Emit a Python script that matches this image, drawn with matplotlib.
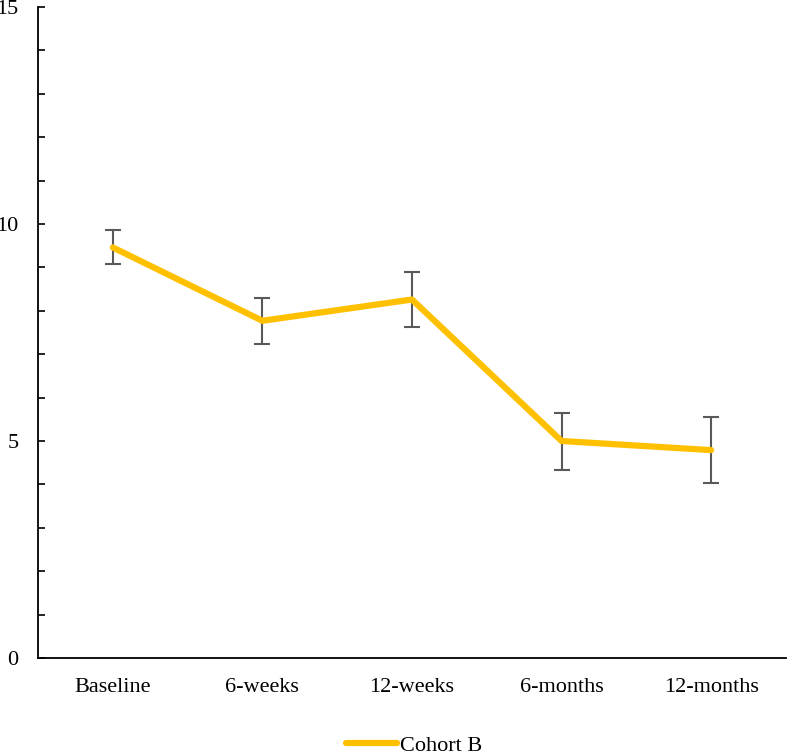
import matplotlib
matplotlib.use('Agg')
import matplotlib.pyplot as plt
from matplotlib.ticker import MultipleLocator

# data
etapas = ['Baseline', '6-weeks', '12-weeks', '6-months', '12-months']
media = [9.46, 7.77, 8.26, 5.00, 4.79]
erro_sup = [9.86, 8.29, 8.89, 5.64, 5.55]
erro_inf = [9.07, 7.23, 7.63, 4.33, 4.04]

plt.rcParams['font.family'] = ['Liberation Serif', 'DejaVu Serif']

fig = plt.figure(figsize=(7.87, 7.52), dpi=100)
ax = fig.add_axes([0.0483, 0.125, 0.9504, 0.8657])

x = list(range(len(etapas)))
yerr = [[m - b for m, b in zip(media, erro_inf)],
        [t - m for m, t in zip(media, erro_sup)]]

ax.errorbar(x, media, yerr=yerr, fmt='none', ecolor='#595959',
            elinewidth=1.5, capsize=5.5, capthick=1.5, zorder=2)
ax.plot(x, media, color='#FFC000', linewidth=4.5, label='Cohort B',
        solid_capstyle='round', zorder=3)

ax.set_xlim(-0.5, len(etapas) - 0.5)
ax.set_ylim(0, 15)
ax.set_xticks(x)
ax.set_xticklabels(etapas)
ax.yaxis.set_major_locator(MultipleLocator(5))
ax.yaxis.set_minor_locator(MultipleLocator(1))

ax.tick_params(axis='x', length=0, pad=14.5, labelsize=16)
ax.tick_params(axis='y', which='both', direction='in', length=5,
               width=1.2, pad=14, labelsize=16)

for lado in ['top', 'right']:
    ax.spines[lado].set_visible(False)
for lado in ['left', 'bottom']:
    ax.spines[lado].set_linewidth(1.3)
    ax.spines[lado].set_color('black')

fig.legend(loc='center', bbox_to_anchor=(0.526, 0.008), frameon=False,
           fontsize=16, handlelength=2.3, handletextpad=0.1)

fig.savefig('out.png', dpi=100)
